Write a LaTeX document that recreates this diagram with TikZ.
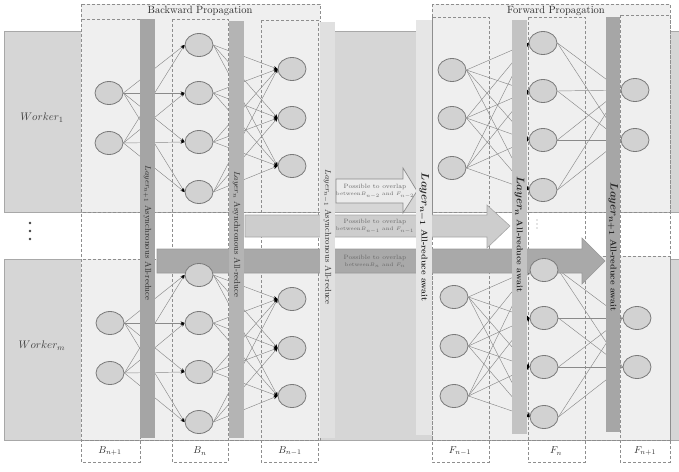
\documentclass[tikz,border=0pt]{standalone}
\usetikzlibrary{shapes.geometric,arrows.meta}
\pgfdeclarelayer{bg}\pgfdeclarelayer{mid}\pgfdeclarelayer{top}
\pgfsetlayers{bg,mid,top,main}
\definecolor{bandc}{HTML}{D6D6D6}
\definecolor{bandd}{HTML}{A8A8A8}
\definecolor{panelc}{HTML}{EFEFEF}
\definecolor{dashc}{HTML}{8E8E8E}
\definecolor{ellf}{HTML}{D2D2D2}
\definecolor{elld}{HTML}{7A7A7A}
\definecolor{edgec}{HTML}{8A8A8A}
\definecolor{barA}{HTML}{A5A5A5}
\definecolor{barB}{HTML}{B4B4B4}
\definecolor{barC}{HTML}{E0E0E0}
\definecolor{barD}{HTML}{E6E6E6}
\definecolor{barE}{HTML}{C3C3C3}
\definecolor{barF}{HTML}{A6A6A6}
\definecolor{arrA}{HTML}{EBEBEB}
\definecolor{arrB}{HTML}{CDCDCD}
\definecolor{arrC}{HTML}{A9A9A9}
\definecolor{arrD}{HTML}{8C8C8C}
\definecolor{txtc}{HTML}{2A2A2A}
\tikzset{
  ell/.style={ellipse, draw=elld, fill=ellf, line width=0.8pt, minimum width=28pt, minimum height=23pt, inner sep=0pt},
  edge/.style={draw=edgec, line width=0.45pt},
  edgeh/.style={edge, -{Stealth[length=4pt,width=3.2pt,color=black]}},
  dsh/.style={draw=dashc, dash pattern=on 3pt off 2pt, line width=0.6pt},
  panel/.style={fill=panelc, dsh},
  band/.style={fill=bandc, draw=bandd, line width=0.6pt},
  bartext/.style={rotate=-90, font=\fontsize{8.5}{9}\selectfont, text=txtc, inner sep=0pt},
  awaittext/.style={rotate=-90, font=\fontsize{8.5}{9}\selectfont\bfseries\boldmath, text=txtc, inner sep=0pt},
  arrtext/.style={font=\fontsize{6.2}{7}\selectfont, text=black!60, align=center, inner sep=0pt},
  coltext/.style={font=\fontsize{10}{11}\selectfont, text=txtc, inner sep=0pt},
  titletext/.style={font=\fontsize{10.5}{12}\selectfont, text=txtc, inner sep=0pt},
  worktext/.style={font=\fontsize{11}{12}\selectfont, text=black!75, inner sep=0pt},
  dotc/.style={fill=black!75},
  dotl/.style={fill=black!45},
}
\newcommand{\smallline}[1]{{\fontsize{5.2}{6}\selectfont #1}}
\begin{document}
\begin{tikzpicture}[x=1pt,y=-1pt]
\useasboundingbox (0,0) rectangle (679,471);

% ---------- nodes (neurons) ----------
% backward, worker 1
\node[ell] (ua1) at (109,93) {};
\node[ell] (ua2) at (109,143) {};
\node[ell] (ub1) at (199,45) {};
\node[ell] (ub2) at (199,93) {};
\node[ell] (ub3) at (199,142) {};
\node[ell] (ub4) at (199,192) {};
\node[ell] (uc1) at (292,69) {};
\node[ell] (uc2) at (292,118) {};
\node[ell] (uc3) at (292,166) {};
% backward, worker m
\node[ell] (la1) at (110,323) {};
\node[ell] (la2) at (110,373) {};
\node[ell] (lb1) at (199,275) {};
\node[ell] (lb2) at (199,323) {};
\node[ell] (lb3) at (199,372) {};
\node[ell] (lb4) at (199,422) {};
\node[ell] (lc1) at (292,299) {};
\node[ell] (lc2) at (292,348) {};
\node[ell] (lc3) at (292,396) {};
% forward, worker 1
\node[ell] (ud1) at (452,70) {};
\node[ell] (ud2) at (452,118) {};
\node[ell] (ud3) at (452,168) {};
\node[ell] (ue1) at (543,43) {};
\node[ell] (ue2) at (543,91) {};
\node[ell] (ue3) at (543,140) {};
\node[ell] (ue4) at (543,190) {};
\node[ell] (uf1) at (635,90) {};
\node[ell] (uf2) at (635,140) {};
% forward, worker m
\node[ell] (ld1) at (454,297) {};
\node[ell] (ld2) at (454,346) {};
\node[ell] (ld3) at (454,396) {};
\node[ell] (le1) at (544,270) {};
\node[ell] (le2) at (544,318) {};
\node[ell] (le3) at (544,367) {};
\node[ell] (le4) at (544,417) {};
\node[ell] (lf1) at (637,318) {};
\node[ell] (lf2) at (637,367) {};

% ---------- background ----------
\begin{pgfonlayer}{bg}
\draw[band] (4,31) rectangle (679,212);
\draw[band] (4,259) rectangle (679,440);
\draw[panel] (81,4) rectangle (320,212);
\draw[panel] (81,259) rectangle (320,440);
\draw[panel] (432,4) rectangle (670,212);
\draw[panel] (432,256) rectangle (670,440);
% columns
\draw[dsh] (81,19) rectangle (140,462);
\draw[dsh] (172,19) rectangle (228,462);
\draw[dsh] (261,20) rectangle (318,462);
\draw[dsh] (432,17) rectangle (489,462);
\draw[dsh] (528,17) rectangle (585,462);
\draw[dsh] (620,15) rectangle (670,462);
\draw[dsh] (81,440) -- (318,440);
\draw[dsh] (432,440) -- (670,440);
\end{pgfonlayer}

% ---------- connections ----------
\begin{pgfonlayer}{mid}
\foreach \r in {u,l}{
  \foreach \i in {1,2}{\foreach \j in {1,2,3,4}{\draw[edgeh] (\r a\i.east) -- (\r b\j.west);}}
  \foreach \i in {1,2,3,4}{\foreach \j in {1,2,3}{\draw[edgeh] (\r b\i.east) -- (\r c\j.west);}}
  \foreach \i in {1,2,3}{\foreach \j in {1,2,3,4}{\draw[edgeh] (\r d\i.east) -- (\r e\j.west);}}
  \foreach \i in {1,2,3,4}{\foreach \j in {1,2}{\draw[edge] (\r e\i.east) -- (\r f\j.west);}}
}
\end{pgfonlayer}

% ---------- overlap arrows and layer bars ----------
\begin{pgfonlayer}{top}
\filldraw[fill=arrA, draw=arrD, line width=0.7pt] (336,179) -- (403,179) -- (403,168) -- (417,191) -- (403,213) -- (403,203) -- (336,203) -- cycle;
\filldraw[fill=arrB, draw=black!35, line width=0.6pt] (245,215) -- (487,215) -- (487,205) -- (510,226) -- (487,248) -- (487,237) -- (245,237) -- cycle;
\filldraw[fill=arrC, draw=black!40, line width=0.6pt] (157,249) -- (582,249) -- (582,238) -- (605,261) -- (582,284) -- (582,273) -- (157,273) -- cycle;
\node[arrtext] (p1) at (375,191) {Possible to overlap\\\smallline{between$B_{n-2}$ and $F_{n-2}$}};
\node[arrtext] (p2) at (375,226) {Possible to overlap\\\smallline{between$B_{n-1}$ and $F_{n-1}$}};
\node[arrtext] (p3) at (375,261) {Possible to overlap\\\smallline{between$B_{n}$ and $F_{n}$}};

\fill[barA] (140,19) rectangle (155,438);
\fill[barB] (229,21) rectangle (244,438);
\fill[barC] (320,22) rectangle (335,438);
\fill[barD] (416,20) rectangle (432,435);
\fill[barE] (512,20) rectangle (527,434);
\fill[barF] (606,17) rectangle (620,432);
\node[bartext] (t1) at (147.5,233) {$Layer_{n+1}$ Asynchronous All-reduce};
\node[bartext] (t2) at (236.5,234) {$Layer_{n}$ Asynchronous All-reduce};
\node[bartext] (t3) at (327.5,237) {$Layer_{n-1}$ Asynchronous All-reduce};
\node[awaittext] (t4) at (424,237) {{\fontsize{11}{12}\selectfont$Layer_{n-1}$}\ All-reduce await};
\node[awaittext] (t5) at (519.5,234) {{\fontsize{11}{12}\selectfont$Layer_{n}$}\ All-reduce await};
\node[awaittext] (t6) at (613,247) {{\fontsize{11}{12}\selectfont$Layer_{n+1}$}\ All-reduce await};
\end{pgfonlayer}

% ---------- labels ----------
\node[titletext] (bt) at (200,11) {Backward Propagation};
\node[titletext] (ft) at (556,10.5) {Forward Propagation};
\node[worktext] (w1) at (42,118) {$Worker_{1}$};
\node[worktext] (wm) at (42,346) {$Worker_{m}$};
\fill[dotc] (30,223) circle (1.3);
\fill[dotc] (30,231) circle (1.3);
\fill[dotc] (30,239) circle (1.3);
\fill[dotl] (537,220) circle (0.6);
\fill[dotl] (537,224) circle (0.6);
\fill[dotl] (537,228) circle (0.6);
\node[coltext] (lb) at (110,451) {$B_{n+1}$};
\node[coltext] (lbn) at (200,451) {$B_{n}$};
\node[coltext] (lbm) at (290,451) {$B_{n-1}$};
\node[coltext] (lfm) at (460,451) {$F_{n-1}$};
\node[coltext] (lfn) at (556,451) {$F_{n}$};
\node[coltext] (lfp) at (645,451) {$F_{n+1}$};
\end{tikzpicture}
\end{document}
